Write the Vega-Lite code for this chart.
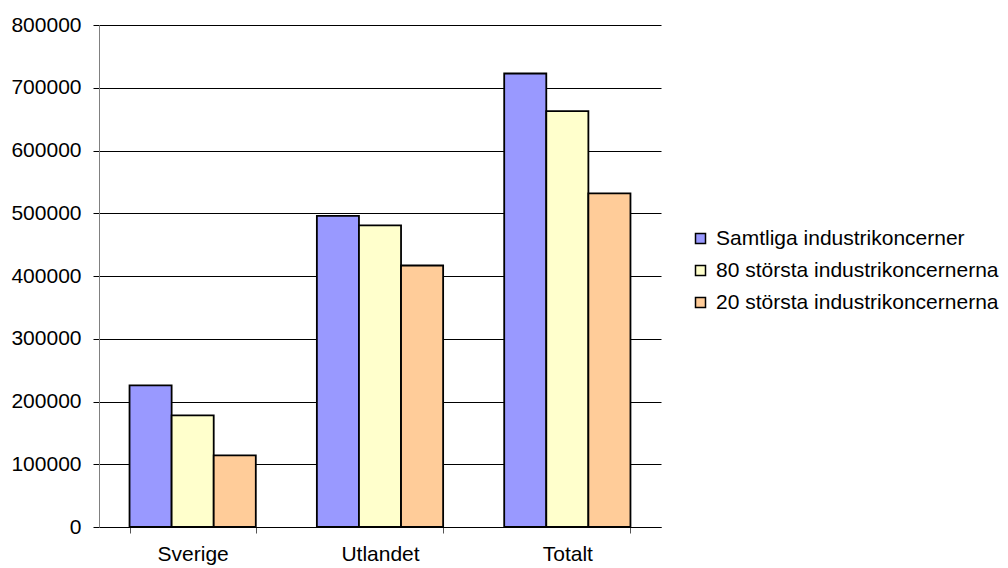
{
  "$schema": "https://vega.github.io/schema/vega-lite/v6.json",
  "width": 562,
  "height": 502,
  "autosize": {"type": "none"},
  "padding": {"left": 99, "top": 25, "right": 347, "bottom": 41},
  "background": "white",
  "config": {
    "font": "Liberation Sans",
    "view": {"stroke": null},
    "axis": {"labelFont": "Liberation Sans", "labelColor": "#000000"},
    "legend": {"labelFont": "Liberation Sans"}
  },
  "data": {
    "values": [
      {"kategori": "Sverige", "serie": "Samtliga industrikoncerner", "varde": 225700},
      {"kategori": "Sverige", "serie": "80 största industrikoncernerna", "varde": 177800},
      {"kategori": "Sverige", "serie": "20 största industrikoncernerna", "varde": 114300},
      {"kategori": "Utlandet", "serie": "Samtliga industrikoncerner", "varde": 495800},
      {"kategori": "Utlandet", "serie": "80 största industrikoncernerna", "varde": 480800},
      {"kategori": "Utlandet", "serie": "20 största industrikoncernerna", "varde": 416700},
      {"kategori": "Totalt", "serie": "Samtliga industrikoncerner", "varde": 722700},
      {"kategori": "Totalt", "serie": "80 största industrikoncernerna", "varde": 662600},
      {"kategori": "Totalt", "serie": "20 största industrikoncernerna", "varde": 531600}
    ]
  },
  "mark": {"type": "bar", "stroke": "#000000", "strokeWidth": 1.8},
  "encoding": {
    "x": {
      "field": "kategori",
      "type": "nominal",
      "sort": ["Sverige", "Utlandet", "Totalt"],
      "scale": {"paddingInner": 0.326, "paddingOuter": 0.163},
      "axis": {
        "title": null,
        "labelAngle": 0,
        "labelFontSize": 21,
        "labelPadding": 10,
        "tickBand": "extent",
        "ticks": true,
        "tickSize": 6,
        "tickColor": "#555555",
        "domainColor": "#000000",
        "grid": false
      }
    },
    "xOffset": {
      "field": "serie",
      "type": "nominal",
      "sort": ["Samtliga industrikoncerner", "80 största industrikoncernerna", "20 största industrikoncernerna"],
      "scale": {"paddingInner": 0, "paddingOuter": 0}
    },
    "y": {
      "field": "varde",
      "type": "quantitative",
      "scale": {"domain": [0, 800000], "nice": false},
      "axis": {
        "title": null,
        "values": [0, 100000, 200000, 300000, 400000, 500000, 600000, 700000, 800000],
        "format": "d",
        "labelFontSize": 21,
        "labelPadding": 12,
        "tickSize": 6,
        "tickColor": "#000000",
        "domainColor": "#808080",
        "grid": true,
        "gridColor": "#000000",
        "gridWidth": 1,
        "gridOpacity": 1
      }
    },
    "color": {
      "field": "serie",
      "type": "nominal",
      "sort": ["Samtliga industrikoncerner", "80 största industrikoncernerna", "20 största industrikoncernerna"],
      "scale": {
        "domain": ["Samtliga industrikoncerner", "80 största industrikoncernerna", "20 största industrikoncernerna"],
        "range": ["#9999FF", "#FFFFCC", "#FFCC99"]
      },
      "legend": {
        "title": null,
        "orient": "none",
        "legendX": 591,
        "legendY": 203,
        "padding": 0,
        "symbolType": "square",
        "symbolSize": 100,
        "symbolStrokeColor": "#000000",
        "symbolStrokeWidth": 1.5,
        "symbolOpacity": 1,
        "labelFontSize": 21,
        "labelColor": "#000000",
        "labelOffset": 5,
        "labelLimit": 400,
        "rowPadding": 10
      }
    }
  }
}
